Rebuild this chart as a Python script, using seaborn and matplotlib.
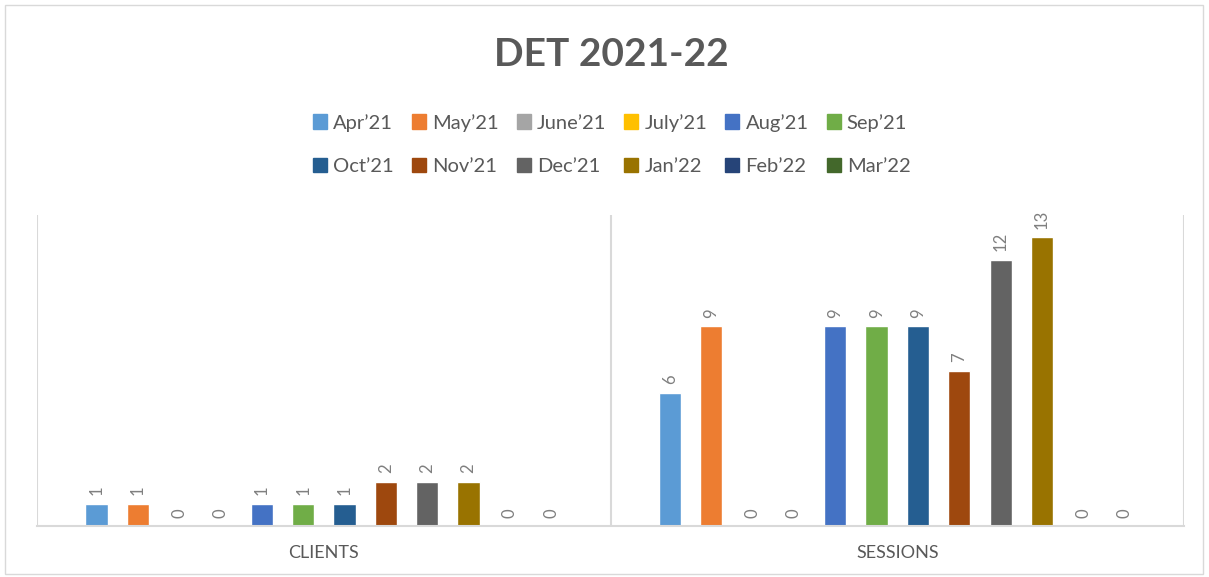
import pandas as pd
import matplotlib.pyplot as plt
import matplotlib.patches as mpatches
import seaborn as sns

# data
categories = ['CLIENTS', 'SESSIONS']
months = ['Apr\u201921', 'May\u201921', 'June\u201921', 'July\u201921', 'Aug\u201921', 'Sep\u201921',
          'Oct\u201921', 'Nov\u201921', 'Dec\u201921', 'Jan\u201922', 'Feb\u201922', 'Mar\u201922']
clients = [1, 1, 0, 0, 1, 1, 1, 2, 2, 2, 0, 0]
sessions = [6, 9, 0, 0, 9, 9, 9, 7, 12, 13, 0, 0]
colors = ['#5B9BD5', '#ED7D31', '#A5A5A5', '#FFC000', '#4472C4', '#70AD47',
          '#255E91', '#9E480E', '#636363', '#997300', '#264478', '#43682B']

rows = []
for m, c, s in zip(months, clients, sessions):
    rows.append({'category': categories[0], 'month': m, 'value': c})
    rows.append({'category': categories[1], 'month': m, 'value': s})
df = pd.DataFrame(rows)

sns.set_style('white')
plt.rcParams['font.family'] = ['Lato', 'DejaVu Sans']

fig = plt.figure(figsize=(12.09, 5.77), dpi=100)
ax = fig.add_axes([0.0306, 0.0884, 0.9488, 0.5386])

sns.barplot(data=df, x='category', y='value', hue='month', order=categories,
            hue_order=months, palette=colors, width=0.865, gap=0.46,
            saturation=1, ax=ax, legend=False)

for cont in ax.containers:
    ax.bar_label(cont, rotation=90, padding=6, fontsize=12, color='#7F7F7F')

ax.set_ylim(0, 14)
ax.set_xlim(-0.5, 1.5)
ax.set_yticks([])
ax.set_xlabel('')
ax.set_ylabel('')
for sp in ['top', 'right', 'left']:
    ax.spines[sp].set_visible(False)
ax.spines['bottom'].set_color('#D9D9D9')
ax.spines['bottom'].set_linewidth(1.5)
for xv in [-0.5, 0.5, 1.5]:
    ax.axvline(xv, color='#D9D9D9', lw=1.5)
ax.tick_params(axis='x', length=0, pad=14, labelsize=13, labelcolor='#595959')

fig.text(0.506, 0.905, 'DET 2021-22', ha='center', va='center',
         fontsize=28, fontweight='bold', color='#595959')

# legend fills column-first, so interleave to get row-wise order
handles = [mpatches.Patch(color=c, label=m) for m, c in zip(months, colors)]
ordered = []
for i in range(6):
    ordered += [handles[i], handles[i + 6]]
fig.legend(handles=ordered, loc='center', bbox_to_anchor=(0.506, 0.75), ncol=6,
           frameon=False, fontsize=14.5, labelcolor='#595959', handlelength=0.7,
           handleheight=0.7, handletextpad=0.3, columnspacing=0.9, labelspacing=1.3)

fig.patches.append(mpatches.Rectangle((0.004, 0.006), 0.991, 0.985, transform=fig.transFigure,
                                      fill=False, edgecolor='#D9D9D9', lw=1))

fig.savefig('out.png', dpi=100)
